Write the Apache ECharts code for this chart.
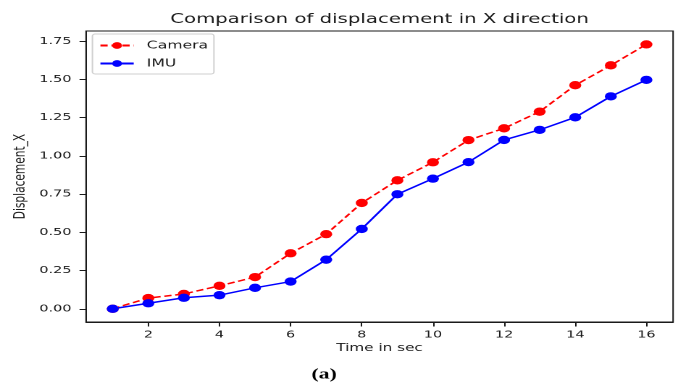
<!DOCTYPE html>
<html>
<head>
<meta charset="utf-8">
<script src="https://cdn.jsdelivr.net/npm/echarts@6/dist/echarts.min.js"></script>
<style>
  html, body { margin: 0; padding: 0; background: #fff; overflow: hidden; }
  /* the source figure is stretched sideways, so draw narrow and stretch it */
  #chart { width: 468px; height: 385px; transform: scaleX(1.4487); transform-origin: 0 0; }
</style>
</head>
<body>
<div id="chart"></div>
<script>
// time in sec
var timeSec = [1, 2, 3, 4, 5, 6, 7, 8, 9, 10, 11, 12, 13, 14, 15, 16];
var cameraX = [0.00, 0.07, 0.097, 0.15, 0.207, 0.363, 0.488, 0.692, 0.84, 0.958, 1.103, 1.18, 1.289, 1.462, 1.592, 1.729];
var imuX = [0.00, 0.036, 0.072, 0.089, 0.137, 0.178, 0.321, 0.522, 0.749, 0.851, 0.959, 1.104, 1.17, 1.252, 1.389, 1.497];
var xTicks = [2, 4, 6, 8, 10, 12, 14, 16];
var yTicks = [0, 0.25, 0.5, 0.75, 1.0, 1.25, 1.5, 1.75];

function pairs(xs, ys) {
  return xs.map(function (x, i) { return [x, ys[i]]; });
}

var font = 'DejaVu Sans';
var ink = '#1a1a1a';
var myChart = echarts.init(document.getElementById('chart'), null, { renderer: 'canvas', devicePixelRatio: 2 });

var option = {
  animation: false,
  backgroundColor: '#fff',
  legend: {
    left: 63.8,
    top: 34,
    orient: 'vertical',
    itemGap: 7,
    itemWidth: 23,
    itemHeight: 8.5,
    padding: [6, 4, 5, 4.5],
    borderColor: '#d0d0d0',
    borderWidth: 1,
    borderRadius: 2,
    textStyle: { fontFamily: font, fontSize: 10.8, color: ink, padding: [0, 0, 0, 4] },
    data: ['Camera', 'IMU']
  },
  grid: {
    left: 59.4, right: 3.4, top: 31, bottom: 63,
    outerBoundsMode: 'none',
    show: true, borderColor: ink, borderWidth: 1
  },
  xAxis: {
    type: 'value',
    min: 0.25, max: 16.75,
    name: 'Time in sec',
    nameLocation: 'middle',
    nameGap: 21,
    nameMoveOverlap: false,
    nameTextStyle: { fontFamily: font, fontSize: 10.5, color: ink },
    splitLine: { show: false },
    axisLine: { onZero: false, lineStyle: { color: ink, width: 1 } },
    axisTick: { customValues: xTicks, length: 4.5, lineStyle: { color: ink } },
    axisLabel: {
      customValues: xTicks, margin: 8,
      fontFamily: font, fontSize: 10, color: ink
    }
  },
  yAxis: {
    type: 'value',
    min: -0.0865, max: 1.8165,
    name: 'Displacement_X',
    nameLocation: 'middle',
    nameGap: 39.5,
    nameMoveOverlap: false,
    nameTextStyle: { fontFamily: font, fontSize: 10.6, color: ink },
    splitLine: { show: false },
    axisLine: { show: true, onZero: false, lineStyle: { color: ink, width: 1 } },
    axisTick: { show: true, customValues: yTicks, length: 4.5, lineStyle: { color: ink } },
    axisLabel: {
      customValues: yTicks, margin: 10,
      fontFamily: font, fontSize: 10, color: ink,
      formatter: function (v) { return v.toFixed(2); }
    }
  },
  series: [
    {
      name: 'Camera',
      type: 'line',
      data: pairs(timeSec, cameraX),
      symbol: 'circle',
      symbolSize: 8.3,
      itemStyle: { color: '#ff0000' },
      lineStyle: { color: '#ff0000', width: 1.5, type: [5, 2.6] }
    },
    {
      name: 'IMU',
      type: 'line',
      data: pairs(timeSec, imuX),
      symbol: 'circle',
      symbolSize: 8.3,
      itemStyle: { color: '#0000ff' },
      lineStyle: { color: '#0000ff', width: 1.5 }
    }
  ],
  graphic: [
    {
      type: 'text',
      x: 262,
      y: 12.5,
      style: {
        text: 'Comparison of displacement in X direction',
        font: '13.6px "DejaVu Sans"',
        fill: ink,
        align: 'center',
        verticalAlign: 'top'
      }
    },
    {
      type: 'text',
      left: 215,
      top: 367,
      style: {
        text: '(a)',
        font: 'bold 15px "Liberation Serif"',
        fill: '#000'
      }
    }
  ]
};

myChart.setOption(option);
</script>
</body>
</html>
